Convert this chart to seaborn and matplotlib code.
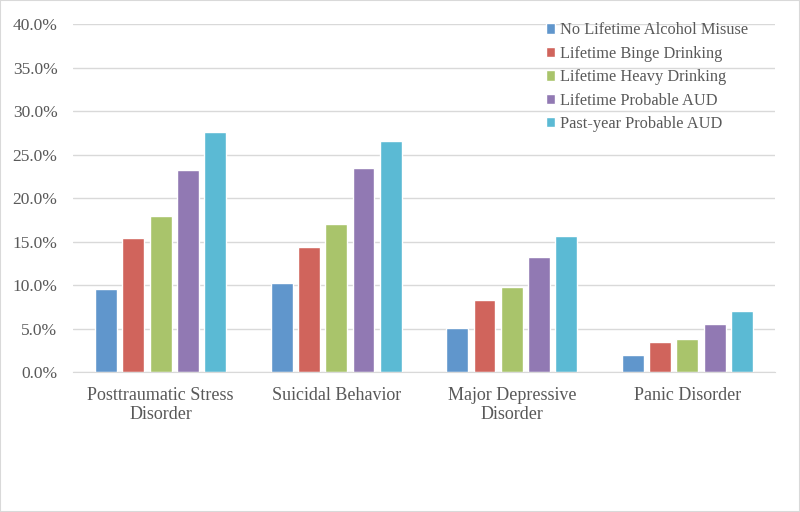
import pandas as pd
import matplotlib
matplotlib.use("Agg")
import matplotlib.pyplot as plt
import seaborn as sns
from matplotlib.ticker import PercentFormatter

# 数据
categories = ["Posttraumatic Stress\nDisorder", "Suicidal Behavior",
              "Major Depressive\nDisorder", "Panic Disorder"]
groups = ["No Lifetime Alcohol Misuse", "Lifetime Binge Drinking",
          "Lifetime Heavy Drinking", "Lifetime Probable AUD",
          "Past-year Probable AUD"]
no_misuse = [9.5, 10.2, 5.1, 1.9]
binge = [15.4, 14.4, 8.3, 3.5]
heavy = [17.9, 17.0, 9.8, 3.8]
probable_aud = [23.2, 23.4, 13.2, 5.5]
past_year_aud = [27.6, 26.6, 15.6, 7.0]

colors = ["#6096CC", "#D0645C", "#A9C46B", "#9179B3", "#5BBAD4"]

rows = []
for g, vals in zip(groups, [no_misuse, binge, heavy, probable_aud, past_year_aud]):
    for c, v in zip(categories, vals):
        rows.append({"Category": c, "Group": g, "Value": v})
df = pd.DataFrame(rows)

sns.set_style("white")
plt.rcParams['font.family'] = ['Liberation Serif', 'DejaVu Serif']

fig = plt.figure(figsize=(8, 5.12), dpi=100)
ax = fig.add_axes([0.091, 0.2734, 0.878, 0.6797])

sns.barplot(data=df, x="Category", y="Value", hue="Group", palette=colors,
            width=0.777, gap=0.2, ax=ax, saturation=1)

ax.set_ylim(0, 40)
ax.set_yticks(range(0, 41, 5))
ax.yaxis.set_major_formatter(PercentFormatter(decimals=1))
ax.grid(axis='y', color='#D9D9D9', linewidth=1)
ax.set_axisbelow(True)
for s in ["top", "right", "left"]:
    ax.spines[s].set_visible(False)
ax.spines["bottom"].set_color("#D9D9D9")
ax.set_xlabel("")
ax.set_ylabel("")
ax.tick_params(axis='y', length=0, labelsize=12.5, colors='#595959', pad=11)
ax.tick_params(axis='x', length=0, labelsize=13, colors='#595959', pad=11)
for t in ax.get_xticklabels():
    t.set_linespacing(1.1)
ax.set_xlim(-0.5, 3.5)

leg = ax.legend(loc='upper right', bbox_to_anchor=(0.983, 1.047), frameon=False,
                fontsize=11.8, handlelength=0.6, handleheight=0.6,
                handletextpad=0.3, labelspacing=0.45)
for t in leg.get_texts():
    t.set_color('#595959')

fig.patches.append(plt.Rectangle((0, 0), 1, 1, transform=fig.transFigure,
                                 fill=False, edgecolor='#D9D9D9', linewidth=1.5))

fig.savefig("out.png", dpi=100)
